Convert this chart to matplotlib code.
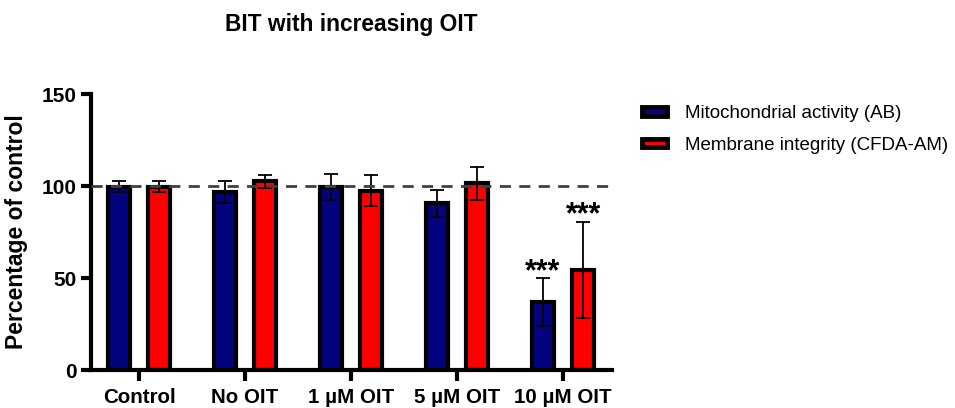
import numpy as np
import matplotlib.pyplot as plt

plt.rcParams['font.family'] = ['Liberation Sans', 'DejaVu Sans']

# data
groups = ['Control', 'No OIT', '1 µM OIT', '5 µM OIT', '10 µM OIT']
ab_mean = [99.5, 96.5, 99.5, 90.5, 37]
ab_err = [3, 6, 7, 7.5, 13]
cfda_mean = [99.5, 102.5, 97.5, 101.5, 54.5]
cfda_err = [3, 3.5, 8.5, 9, 26]
stars_ab = ['', '', '', '', '***']
stars_cfda = ['', '', '', '', '***']

fig = plt.figure(figsize=(9.55, 4.08), dpi=100)
ax = fig.add_axes([0.0953, 0.0931, 0.5457, 0.6765])

x = np.arange(len(groups))
w = 0.21
off = 0.19
err_kw = dict(ecolor='black', elinewidth=1.3, capsize=5, capthick=1.3)
ax.bar(x - off, ab_mean, w, yerr=ab_err, color='#03037f', edgecolor='black',
       linewidth=3, error_kw=err_kw, label='Mitochondrial activity (AB)', zorder=2)
ax.bar(x + off, cfda_mean, w, yerr=cfda_err, color='#ff0000', edgecolor='black',
       linewidth=3, error_kw=err_kw, label='Membrane integrity (CFDA-AM)', zorder=2)

# significance stars just above the error caps
for i in range(len(groups)):
    if stars_ab[i]:
        ax.text(x[i] - off, ab_mean[i] + ab_err[i] - 1, stars_ab[i], ha='center',
                va='baseline', fontsize=22, fontweight='bold')
    if stars_cfda[i]:
        ax.text(x[i] + off, cfda_mean[i] + cfda_err[i] - 1, stars_cfda[i], ha='center',
                va='baseline', fontsize=22, fontweight='bold')

ax.axhline(100, color='#404040', linestyle=(0, (4, 3)), linewidth=2, zorder=3)

ax.set_xlim(-0.453, 4.462)
ax.set_ylim(0, 150)
ax.set_yticks([0, 50, 100, 150])
ax.set_xticks(x)
ax.set_xticklabels(groups, fontsize=14.8, fontweight='bold')
for t in ax.get_yticklabels():
    t.set_fontsize(15)
    t.set_fontweight('bold')
ax.tick_params(axis='y', length=7, width=3, pad=3)
ax.tick_params(axis='x', length=8, width=3, pad=5)
ax.set_ylabel('Percentage of control', fontsize=16.5, fontweight='bold', labelpad=10)
for s in ['top', 'right']:
    ax.spines[s].set_visible(False)
for s in ['left', 'bottom']:
    ax.spines[s].set_linewidth(3)

fig.text(351 / 955, 1 - 24 / 408, 'BIT with increasing OIT', ha='center', va='center',
         fontsize=16.4, fontweight='bold')

leg = fig.legend(loc='upper left', bbox_to_anchor=(0.672, 0.742), frameon=False,
                 fontsize=13.5, handlelength=1.33, handleheight=0.32, labelspacing=0.78,
                 handletextpad=1.0, borderpad=0, borderaxespad=0)
for h in leg.legend_handles:
    h.set_linewidth(3.5)

fig.savefig('out.png', dpi=100)
